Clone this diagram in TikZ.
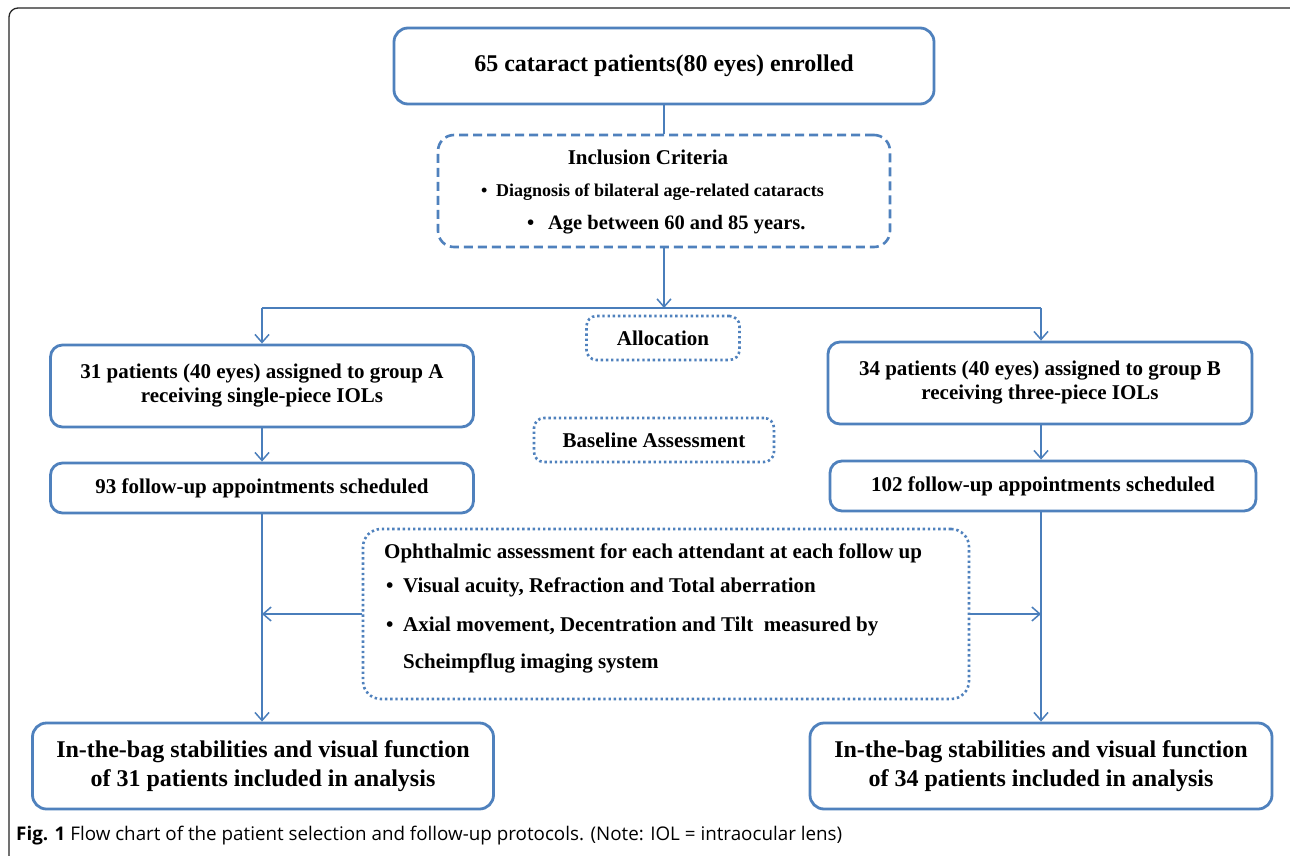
\documentclass[tikz,border=0pt]{standalone}
\usepackage{fontspec}
\setmainfont{Liberation Serif}
\newfontfamily\capfont{Open Sans}
\usetikzlibrary{arrows.meta}
\definecolor{boxblue}{RGB}{79,129,189}
\definecolor{lineblue}{RGB}{74,126,187}
\begin{document}
\begin{tikzpicture}[x=1pt,y=-1pt,
  sbox/.style={draw=boxblue,line width=2.8pt,rounded corners=12pt,inner sep=0pt,align=center,font=\bfseries\fontsize{21}{24}\selectfont},
  bigbox/.style={sbox,rounded corners=14pt,font=\bfseries\fontsize{24}{30}\selectfont},
  dotbox/.style={draw=boxblue,line width=2.6pt,dash pattern=on 2.4pt off 2.8pt,rounded corners=10pt,inner sep=0pt,align=center,font=\bfseries\fontsize{21}{24}\selectfont},
  dashbox/.style={draw=boxblue,line width=2.6pt,dash pattern=on 9pt off 5pt,rounded corners=16pt,inner sep=0pt},
  txt/.style={inner sep=0pt,font=\bfseries\fontsize{21}{24}\selectfont},
  conn/.style={draw=lineblue,line width=1.5pt},
  arr/.style={conn,-{Straight Barb[length=8pt,width=14pt,line width=1.5pt]}}]
\useasboundingbox (0,0) rectangle (1290,856);
\clip (0,0) rectangle (1290,856);
\fill[white] (0,0) rectangle (1290,856);
% outer frame
\draw[line width=1.3pt,black!85,rounded corners=9pt] (9,8) rectangle (1300,880);

% nodes
\node[bigbox,minimum width=540pt,minimum height=76pt] (top) at (664,66) {65 cataract patients(80 eyes) enrolled};
\node[dashbox,minimum width=452pt,minimum height=112pt] (incl) at (664,191) {};
\node[txt] (inclT) at (648,157) {Inclusion Criteria};
\node[txt,anchor=west,font=\bfseries\fontsize{18}{22}\selectfont] (inc1) at (481,192) {\makebox[15pt][l]{•}Diagnosis of bilateral age-related cataracts};
\node[txt,anchor=west,font=\bfseries\fontsize{20.5}{24}\selectfont] (inc2) at (527,225) {\makebox[21pt][l]{•}Age between 60 and 85 years.};

\node[dotbox,minimum width=153pt,minimum height=44pt] (alloc) at (663,338) {Allocation};
\node[sbox,minimum width=423pt,minimum height=82pt] (boxA) at (262,386) {31 patients (40 eyes) assigned to group A\\receiving single-piece IOLs};
\node[sbox,minimum width=424pt,minimum height=82pt] (boxB) at (1040,383) {34 patients (40 eyes) assigned to group B\\receiving three-piece IOLs};
\node[dotbox,minimum width=240pt,minimum height=44pt] (base) at (654,440) {Baseline Assessment};
\node[sbox,minimum width=423pt,minimum height=50pt] (fuA) at (262,488) {93 follow-up appointments scheduled};
\node[sbox,minimum width=426pt,minimum height=50pt] (fuB) at (1043,486) {102 follow-up appointments scheduled};

\node[dotbox,minimum width=606pt,minimum height=170pt,rounded corners=18pt] (oph) at (666,614) {};
\node[txt,anchor=west] (oph0) at (384,553) {Ophthalmic assessment for each attendant at each follow up};
\node[txt,anchor=west] (oph1) at (386,587) {\makebox[17pt][l]{•}Visual acuity, Refraction and Total aberration};
\node[txt,anchor=west] (oph2) at (386,626) {\makebox[17pt][l]{•}Axial movement, Decentration and Tilt\ \ measured by};
\node[txt,anchor=west] (oph3) at (403,663) {Scheimpflug imaging system};

\node[bigbox,minimum width=461pt,minimum height=86pt,font=\bfseries\fontsize{24}{29}\selectfont] (endA) at (263,766) {In-the-bag stabilities and visual function\\of 31 patients included in analysis};
\node[bigbox,minimum width=462pt,minimum height=86pt,font=\bfseries\fontsize{24}{29}\selectfont] (endB) at (1041,766) {In-the-bag stabilities and visual function\\of 34 patients included in analysis};

\node[anchor=west,inner sep=0pt,font=\capfont\fontsize{18.8}{22}\selectfont] (cap) at (16,836) {\textbf{Fig. 1} Flow chart of the patient selection and follow-up protocols. (Note: IOL = intraocular lens)};

% connectors
\coordinate (split) at (664,308);
\coordinate (jA) at (262,308);
\coordinate (jB) at (1041,308);
\draw[conn] (top.south) -- (incl.north);
\draw[arr] (incl.south) -- (split);
\draw[conn] (jA) -- (jB);
\draw[arr] (jA) -- (jA |- boxA.north);
\draw[arr] (jB) -- (jB |- boxB.north);
\draw[arr] (jA |- boxA.south) -- (jA |- fuA.north);
\draw[arr] (jB |- boxB.south) -- (jB |- fuB.north);
\draw[arr] (jA |- fuA.south) -- (jA |- endA.north);
\draw[arr] (jB |- fuB.south) -- (jB |- endB.north);
\draw[arr] (oph.west) -- (oph.west -| jA);
\draw[arr] (oph.east) -- (oph.east -| jB);
\end{tikzpicture}
\end{document}
